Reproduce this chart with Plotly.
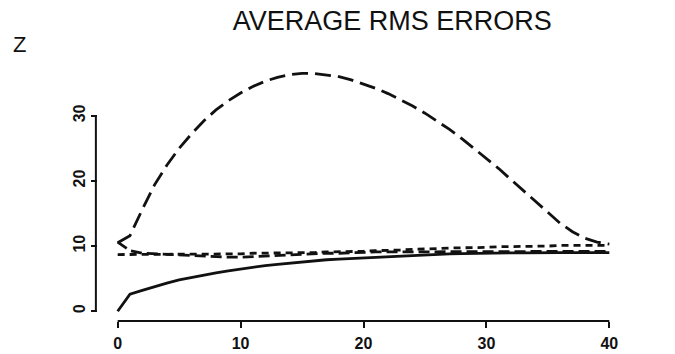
import plotly.graph_objects as go

# Forecast lead (time step) and average RMS errors of the four runs
steps = list(range(0, 41))

err_long = [10.5, 11.6, 15.6, 19.4, 22.4, 25.0, 27.2, 29.2, 30.9, 32.3,
            33.5, 34.5, 35.3, 35.9, 36.3, 36.5, 36.5, 36.3, 36.0, 35.5,
            34.9, 34.2, 33.4, 32.5, 31.5, 30.4, 29.2, 27.9, 26.5, 25.0,
            23.5, 21.9, 20.2, 18.5, 16.8, 15.1, 13.5, 12.2, 11.2, 10.6, 10.3]

err_medium = [10.6, 9.3, 8.9, 8.8, 8.7, 8.6, 8.5, 8.4, 8.4, 8.3,
              8.3, 8.4, 8.5, 8.6, 8.7, 8.8, 8.8, 8.9, 8.9, 9.0,
              9.0, 9.1, 9.1, 9.1, 9.2, 9.2, 9.2, 9.2, 9.2, 9.2,
              9.2, 9.2, 9.2, 9.2, 9.2, 9.2, 9.2, 9.2, 9.2, 9.2, 9.2]

err_short = [8.7, 8.7, 8.7, 8.7, 8.7, 8.7, 8.7, 8.8, 8.8, 8.8,
             8.8, 8.9, 8.9, 8.9, 9.0, 9.0, 9.0, 9.1, 9.1, 9.2,
             9.2, 9.3, 9.3, 9.4, 9.5, 9.5, 9.6, 9.7, 9.7, 9.8,
             9.8, 9.9, 9.9, 10.0, 10.0, 10.0, 10.1, 10.1, 10.1, 10.1, 10.1]

err_solid = [0.0, 2.6, 3.2, 3.8, 4.3, 4.8, 5.2, 5.6, 5.9, 6.2,
             6.5, 6.8, 7.0, 7.2, 7.4, 7.6, 7.7, 7.9, 8.0, 8.1,
             8.2, 8.3, 8.4, 8.5, 8.6, 8.7, 8.75, 8.8, 8.85, 8.9,
             8.9, 8.9, 8.95, 8.95, 9.0, 9.0, 9.0, 9.0, 9.0, 9.0, 9.0]

x_ticks = [0, 10, 20, 30, 40]
y_ticks = [0, 10, 20, 30]

INK = "#111111"

fig = go.Figure()

series = [
    (err_short, "7px,5px"),
    (err_medium, "11px,5px"),
    (err_solid, "solid"),
    (err_long, "16px,7px"),
]
for values, dash in series:
    fig.add_trace(go.Scatter(
        x=steps, y=values, mode="lines",
        line=dict(color=INK, width=2.8, dash=dash),
        showlegend=False, hoverinfo="skip",
    ))

# Axis lines span only the labelled tick range
fig.add_shape(type="line", xref="x", yref="paper",
              x0=x_ticks[0], x1=x_ticks[-1], y0=0, y1=0,
              line=dict(color=INK, width=2))
fig.add_shape(type="line", xref="paper", yref="y",
              x0=-0.004, x1=-0.004, y0=y_ticks[0], y1=y_ticks[-1],
              line=dict(color=INK, width=2))

tick_font = dict(family="Liberation Sans", size=16, color=INK, weight="bold")

fig.update_layout(
    width=675, height=354,
    margin=dict(l=98, r=46, t=63, b=33),
    paper_bgcolor="white", plot_bgcolor="white",
    title=dict(text="AVERAGE RMS ERRORS", x=0.581, xanchor="center",
               y=0.943, yanchor="middle", automargin=False,
               font=dict(family="Liberation Sans", size=27, color=INK)),
    xaxis=dict(range=[-1.6, 41.6], tickvals=x_ticks, ticks="outside",
               ticklen=6, tickwidth=2, tickcolor=INK, showgrid=False,
               zeroline=False, showline=False, tickfont=tick_font,
               ticklabelstandoff=2, automargin=False),
    yaxis=dict(range=[-1.5, 38.1], tickvals=y_ticks, ticks="outside",
               ticklen=6, tickwidth=2, tickcolor=INK, showgrid=False,
               zeroline=False, showline=False, tickangle=-90,
               tickfont=tick_font, ticklabelstandoff=0, automargin=False),
    annotations=[dict(text="Z", xref="paper", yref="paper",
                      x=-0.147, y=1.07, xanchor="center", yanchor="middle",
                      showarrow=False,
                      font=dict(family="Liberation Sans", size=22, color=INK))],
)

fig.write_html("out.html")
